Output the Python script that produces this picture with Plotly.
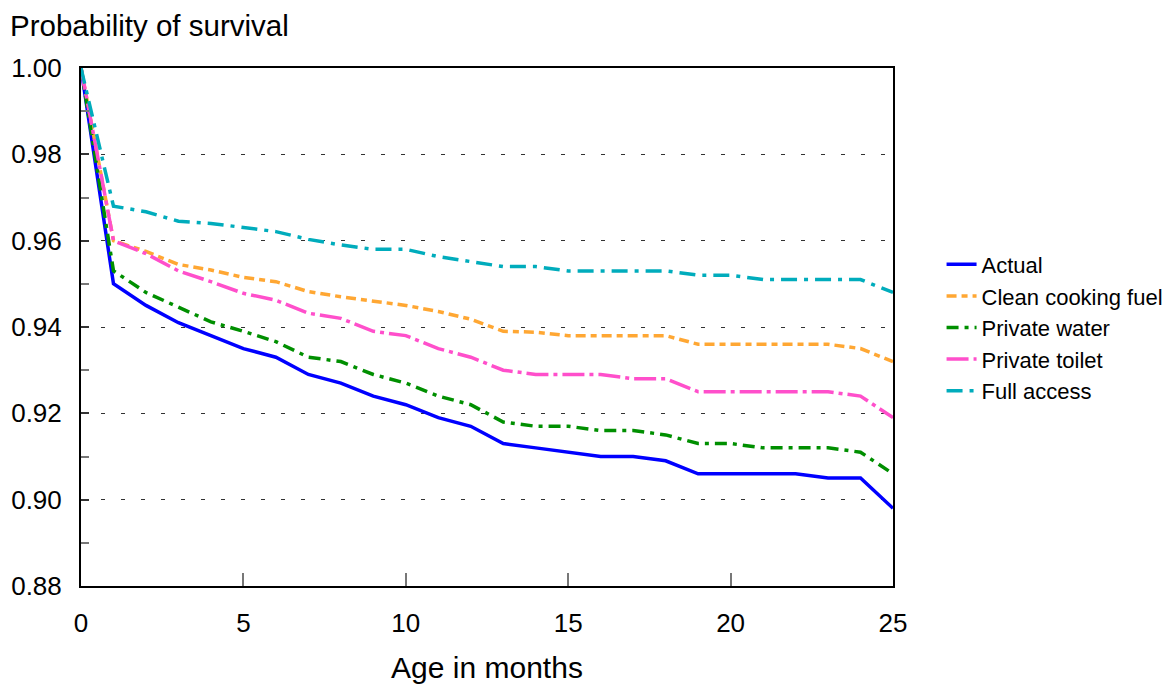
import plotly.graph_objects as go

months = list(range(0, 26))

actual = [1.000, 0.950, 0.945, 0.941, 0.938, 0.935, 0.933, 0.929, 0.927, 0.924,
          0.922, 0.919, 0.917, 0.913, 0.912, 0.911, 0.910, 0.910, 0.909, 0.906,
          0.906, 0.906, 0.906, 0.905, 0.905, 0.898]
clean_fuel = [1.000, 0.960, 0.9575, 0.9545, 0.9532, 0.9515, 0.9505, 0.9482, 0.947, 0.946,
              0.945, 0.9436, 0.9418, 0.939, 0.9388, 0.938, 0.938, 0.938, 0.938, 0.936,
              0.936, 0.936, 0.936, 0.936, 0.935, 0.932]
private_water = [1.000, 0.953, 0.948, 0.9445, 0.9412, 0.939, 0.9366, 0.933, 0.932, 0.929,
                 0.927, 0.924, 0.922, 0.918, 0.917, 0.917, 0.916, 0.916, 0.915, 0.913,
                 0.913, 0.912, 0.912, 0.912, 0.911, 0.906]
private_toilet = [1.000, 0.960, 0.957, 0.953, 0.9505, 0.9478, 0.9462, 0.9432, 0.942, 0.939,
                  0.938, 0.935, 0.933, 0.930, 0.929, 0.929, 0.929, 0.928, 0.928, 0.925,
                  0.925, 0.925, 0.925, 0.925, 0.924, 0.919]
full_access = [1.000, 0.968, 0.9667, 0.9645, 0.964, 0.963, 0.9621, 0.9603, 0.959, 0.958,
               0.958, 0.9563, 0.9551, 0.954, 0.954, 0.953, 0.953, 0.953, 0.953, 0.952,
               0.952, 0.951, 0.951, 0.951, 0.951, 0.948]

series_names = ["Actual", "Clean cooking fuel", "Private water", "Private toilet", "Full access"]
series_values = [actual, clean_fuel, private_water, private_toilet, full_access]
series_colors = ["#0000FF", "#FFA733", "#008F00", "#FF4FCB", "#00ACBC"]
series_dash = ["solid", "10px,5px,6px,5px", "12px,6px,4px,6px", "22px,5px,4px,5px", "16px,7px,4px,7px"]

y_ticks = [0.88, 0.90, 0.92, 0.94, 0.96, 0.98, 1.00]
x_ticks = [0, 5, 10, 15, 20, 25]

FONT = "Liberation Sans, Arial, sans-serif"

fig = go.Figure()
for name, vals, col, dash in zip(series_names, series_values, series_colors, series_dash):
    fig.add_trace(go.Scatter(
        x=months, y=vals, mode="lines", name=name,
        line=dict(color=col, width=3.5, dash=dash),
    ))

# page body has an 8px margin; plot area should sit at x 81..893, y 68..586
fig.update_layout(
    width=1163, height=677,
    margin=dict(l=73, r=278, t=60, b=99, autoexpand=False),
    paper_bgcolor="white", plot_bgcolor="white",
    font=dict(family=FONT, color="black", size=26),
    showlegend=True,
    legend=dict(
        x=1.0598, xanchor="left", y=0.499, yanchor="middle",
        font=dict(size=22, family=FONT, color="black"),
        bgcolor="rgba(0,0,0,0)", borderwidth=0,
    ),
    annotations=[dict(
        text="Probability of survival", xref="paper", yref="paper",
        x=-0.0899, y=1.083, xanchor="left", yanchor="middle",
        showarrow=False, font=dict(size=29.5, family=FONT, color="black"),
    )],
)

fig.update_xaxes(
    range=[0, 25], tickvals=x_ticks, ticktext=[str(v) for v in x_ticks],
    ticks="inside", ticklen=13, tickcolor="#777777", tickwidth=1.5,
    showline=True, linecolor="black", linewidth=2, mirror=True,
    showgrid=False, zeroline=False, ticklabelstandoff=13, automargin=False,
    tickfont=dict(size=26, family=FONT),
    title=dict(text="Age in months", font=dict(size=30, family=FONT), standoff=20),
)
fig.update_yaxes(
    range=[0.88, 1.00], tickvals=y_ticks, ticktext=[f"{v:.2f}" for v in y_ticks],
    ticks="inside", ticklen=8, tickcolor="#333333", tickwidth=1.5,
    minor=dict(dtick=0.01, tick0=0.88, ticks="inside", ticklen=8, tickcolor="#777777", tickwidth=1.5, showgrid=False),
    showline=True, linecolor="black", linewidth=2, mirror=True,
    showgrid=True, gridcolor="#333333", gridwidth=1, griddash="4px,16px",
    zeroline=False, ticklabelstandoff=12, automargin=False,
    tickfont=dict(size=26, family=FONT),
)

fig.write_html("out.html")
